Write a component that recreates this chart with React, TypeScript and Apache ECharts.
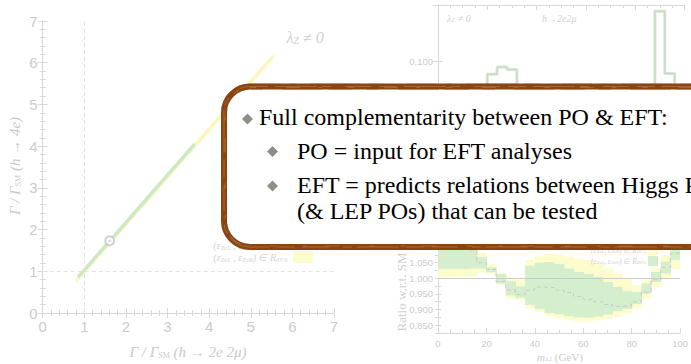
import React, { useEffect, useRef } from "react";
import * as echarts from "echarts";

// ---- Left panel: widths in the (h→2e2μ, h→4e) plane, λ_Z ≠ 0 ----
const widthTicks = [0, 1, 2, 3, 4, 5, 6, 7];
const region95Line: [number, number][] = [
  [0.8, 0.77],
  [5.55, 6.17],
];
const region68Line: [number, number][] = [
  [0.85, 0.86],
  [3.65, 4.05],
];
const smBenchmark: [number, number][] = [[1.61, 1.73]];

// ---- Right panel: m12 spectrum and ratio to SM, 4 GeV bins ----
const m12Edges = [0, 4, 8, 12, 16, 20, 24, 28, 32, 36, 40, 44, 48, 52, 56, 60, 64, 68, 72, 76, 80, 84, 88, 92, 96, 100];
const m12Spectrum = [
  0.012, 0.018, 0.025, 0.035, 0.052, 0.079, 0.09, 0.086, 0.06, 0.048, 0.042, 0.038, 0.036,
  0.035, 0.035, 0.036, 0.037, 0.04, 0.044, 0.05, 0.058, 0.064, 0.25, 0.08, 0.045,
];
const spectrumTicks = [0.1];
const ratioCentral = [
  1.1, 1.1, 1.095, 1.09, 1.05, 1.028, 0.99, 0.963, 0.948, 0.962, 0.972, 0.97, 0.962,
  0.955, 0.942, 0.933, 0.925, 0.916, 0.91, 0.912, 0.925, 0.955, 0.995, 1.035, 1.08,
];
const ratio95Lo = [
  1.002, 1.003, 1.004, 1.005, 1.018, 1.015, 0.98, 0.935, 0.931, 0.905, 0.892, 0.879, 0.872,
  0.866, 0.862, 0.862, 0.865, 0.87, 0.877, 0.888, 0.904, 0.934, 0.972, 0.999, 1.031,
];
const ratio68Lo = [
  1.03, 1.03, 1.03, 1.031, 1.031, 1.019, 0.983, 0.945, 0.938, 0.915, 0.902, 0.889, 0.885,
  0.879, 0.875, 0.874, 0.877, 0.884, 0.895, 0.902, 0.918, 0.951, 0.988, 1.015, 1.058,
];
const ratio68Hi = [
  1.14, 1.14, 1.13, 1.12, 1.067, 1.035, 1.013, 0.99, 0.974, 1.04, 1.05, 1.052, 1.045,
  1.031, 1.02, 1.014, 1.004, 0.988, 0.972, 0.958, 0.956, 0.983, 1.02, 1.053, 1.12,
];
const ratio95Hi = [
  1.15, 1.15, 1.15, 1.14, 1.08, 1.045, 1.017, 1.003, 0.996, 1.058, 1.072, 1.078, 1.074,
  1.069, 1.063, 1.058, 1.047, 1.031, 1.015, 0.999, 0.977, 0.994, 1.031, 1.074, 1.15,
];
const ratioTicks = [0.85, 0.9, 0.95, 1.0, 1.05, 1.1];
const m12Ticks = [0, 20, 40, 60, 80, 100];

// ---- Slide text ----
const headline = "Full complementarity between PO & EFT:";
const subPoints = [
  "PO = input for EFT analyses",
  "EFT = predicts relations between Higgs POs",
  "(& LEP POs) that can be tested",
];

const FRAME = "#d8d8d8";
const LABEL = "#cbcbcb";
const YELLOW = "#fdfccd";
const GREEN = "#d4eece";
const BRUSH = "#8a4512";
const SERIF = '"Liberation Serif", "Times New Roman", serif';
const SANS = '"Liberation Sans", Arial, sans-serif';

function stepData(values: number[]): [number, number][] {
  const pts: [number, number][] = values.map((v, i) => [m12Edges[i], v]);
  pts.push([m12Edges[m12Edges.length - 1], values[values.length - 1]]);
  return pts;
}

function bandData(lo: number[], hi: number[]) {
  return lo.map((l, i) => [m12Edges[i], m12Edges[i + 1], l, hi[i]]);
}

function bandSeries(lo: number[], hi: number[], color: string, z: number) {
  return {
    type: "custom",
    xAxisIndex: 4,
    yAxisIndex: 4,
    z,
    silent: true,
    encode: { x: [0, 1], y: [2, 3] },
    data: bandData(lo, hi),
    renderItem: (params: any, api: any) => {
      const p0 = api.coord([api.value(0), api.value(3)]);
      const p1 = api.coord([api.value(1), api.value(2)]);
      const cs = params.coordSys;
      const shape = echarts.graphic.clipRectByRect(
        { x: p0[0], y: p0[1], width: p1[0] - p0[0] + 0.6, height: p1[1] - p0[1] },
        { x: cs.x, y: cs.y, width: cs.width, height: cs.height }
      );
      return shape ? { type: "rect", shape, style: { fill: color } } : null;
    },
  };
}

function frameAxis(extra: any) {
  return {
    type: "value",
    axisLine: { show: true, lineStyle: { color: FRAME, width: 1 } },
    axisTick: { show: true, inside: true, length: 5, lineStyle: { color: FRAME } },
    minorTick: { show: true, splitNumber: 5, length: 3, lineStyle: { color: FRAME } },
    splitLine: { show: false },
    axisLabel: { show: false },
    ...extra,
  };
}

const italicRich = (size: number, sub: number, drop: number, fill: string) => ({
  i: { fontFamily: SERIF, fontStyle: "italic", fontSize: size, fill },
  s: { fontFamily: SERIF, fontStyle: "italic", fontSize: sub, fill, padding: [drop, 0, 0, 0] },
  u: { fontFamily: SERIF, fontSize: sub, fill, padding: [drop, 0, 0, 0] },
  r: { fontFamily: SERIF, fontSize: size, fill },
});

export default function App() {
  const ref = useRef<HTMLDivElement>(null);

  useEffect(() => {
    if (!ref.current) return;
    const chart = echarts.init(ref.current, undefined, { renderer: "svg" });

    const tickFmt = (list: number[], digits: number) => (v: number) =>
      list.some((t) => Math.abs(t - v) < 1e-6) ? v.toFixed(digits) : "";

    const minor4 = { show: true, splitNumber: 4, length: 3, lineStyle: { color: FRAME } };

    const option: any = {
      animation: false,
      backgroundColor: "#ffffff",
      grid: [
        { left: 42.7, top: 21, width: 291.3, height: 292 },
        { left: 438, top: 5, width: 246.5, height: 220 },
        { left: 438, top: 231.3, width: 246.5, height: 101.7 },
      ],
      xAxis: [
        frameAxis({
          gridIndex: 0,
          min: 0,
          max: 7,
          interval: 1,
          axisLabel: {
            show: true,
            color: LABEL,
            fontFamily: SANS,
            fontSize: 15,
            margin: 6,
            formatter: tickFmt(widthTicks, 0),
          },
        }),
        frameAxis({ gridIndex: 0, position: "top", min: 0, max: 7, interval: 1 }),
        frameAxis({ gridIndex: 1, min: 0, max: 100, interval: 20, minorTick: minor4 }),
        frameAxis({ gridIndex: 1, position: "top", min: 0, max: 100, interval: 20, minorTick: minor4 }),
        frameAxis({
          gridIndex: 2,
          min: 0,
          max: 100,
          interval: 20,
          minorTick: minor4,
          axisLabel: {
            show: true,
            color: LABEL,
            fontFamily: SANS,
            fontSize: 9.5,
            margin: 5,
            formatter: tickFmt(m12Ticks, 0),
          },
        }),
        frameAxis({ gridIndex: 2, position: "top", min: 0, max: 100, interval: 20 }),
      ],
      yAxis: [
        frameAxis({
          gridIndex: 0,
          min: 0,
          max: 7,
          interval: 1,
          axisLabel: {
            show: true,
            color: LABEL,
            fontFamily: SANS,
            fontSize: 15,
            margin: 5,
            formatter: tickFmt(widthTicks, 0),
          },
        }),
        frameAxis({ gridIndex: 0, position: "right", min: 0, max: 7, interval: 1 }),
        {
          type: "log",
          gridIndex: 1,
          min: 0.005,
          max: 0.28,
          axisLine: { show: true, lineStyle: { color: FRAME } },
          axisTick: { show: true, inside: true, length: 5, lineStyle: { color: FRAME } },
          splitLine: { show: false },
          axisLabel: {
            show: true,
            color: LABEL,
            fontFamily: SANS,
            fontSize: 9.5,
            margin: 5,
            formatter: tickFmt(spectrumTicks, 3),
          },
        },
        {
          type: "log",
          gridIndex: 1,
          position: "right",
          min: 0.005,
          max: 0.28,
          axisLine: { show: true, lineStyle: { color: FRAME } },
          axisTick: { show: true, inside: true, length: 5, lineStyle: { color: FRAME } },
          splitLine: { show: false },
          axisLabel: { show: false },
        },
        frameAxis({
          gridIndex: 2,
          min: 0.825,
          max: 1.15,
          interval: 0.025,
          minorTick: { show: false },
          axisTick: { show: true, inside: true, length: 3, lineStyle: { color: FRAME } },
          axisLabel: {
            show: true,
            color: LABEL,
            fontFamily: SANS,
            fontSize: 9.5,
            margin: 5,
            formatter: tickFmt(ratioTicks, 3),
          },
        }),
        frameAxis({
          gridIndex: 2,
          position: "right",
          min: 0.825,
          max: 1.15,
          interval: 0.025,
          minorTick: { show: false },
          axisTick: { show: true, inside: true, length: 3, lineStyle: { color: FRAME } },
        }),
      ],
      series: [
        {
          type: "line",
          xAxisIndex: 0,
          yAxisIndex: 0,
          data: region95Line,
          symbol: "none",
          lineStyle: { color: "#faf7bd", width: 3.5 },
          z: 2,
          markLine: {
            silent: true,
            symbol: "none",
            label: { show: false },
            lineStyle: { color: "#e2e2e2", type: [4, 3], width: 1 },
            data: [{ xAxis: 1 }, { yAxis: 1 }],
            z: 1,
          },
        },
        {
          type: "line",
          xAxisIndex: 0,
          yAxisIndex: 0,
          data: region68Line,
          symbol: "none",
          lineStyle: { color: "#cde8c5", width: 3.5 },
          z: 3,
        },
        {
          type: "scatter",
          xAxisIndex: 0,
          yAxisIndex: 0,
          data: smBenchmark,
          symbol: "emptyCircle",
          symbolSize: 9,
          itemStyle: { color: "#c6c6c6", borderColor: "#c6c6c6", borderWidth: 1.2 },
          z: 4,
        },
        {
          type: "scatter",
          xAxisIndex: 0,
          yAxisIndex: 0,
          data: smBenchmark,
          symbol: "circle",
          symbolSize: 2.2,
          itemStyle: { color: "#c6c6c6" },
          z: 5,
        },
        // m12 spectrum (log scale)
        {
          type: "line",
          xAxisIndex: 2,
          yAxisIndex: 2,
          step: "end",
          data: stepData(m12Spectrum),
          symbol: "none",
          lineStyle: { color: "#d2ebcb", width: 3 },
          z: 2,
        },
        {
          type: "line",
          xAxisIndex: 2,
          yAxisIndex: 2,
          step: "end",
          data: stepData(m12Spectrum),
          symbol: "none",
          lineStyle: { color: "#cfcfcf", width: 1 },
          z: 3,
        },
        // ratio bands
        bandSeries(ratio95Lo, ratio95Hi, YELLOW, 1),
        bandSeries(ratio68Lo, ratio68Hi, GREEN, 2),
        {
          type: "line",
          xAxisIndex: 4,
          yAxisIndex: 4,
          step: "end",
          data: stepData(ratioCentral),
          symbol: "none",
          lineStyle: { color: "#c9c9c9", width: 1, type: [4, 3] },
          z: 4,
          markLine: {
            silent: true,
            symbol: "none",
            label: { show: false },
            lineStyle: { color: "#cccccc", type: "solid", width: 1 },
            data: [{ yAxis: 1 }],
          },
        },
      ],
      graphic: [
        // left axis titles
        {
          type: "text",
          x: 188,
          y: 352,
          z: 10,
          style: {
            text: "{i|Γ / Γ}{u|SM}{i| (h → 2e 2μ)}",
            rich: italicRich(15, 8, 6, LABEL),
            align: "center",
            verticalAlign: "middle",
          },
        },
        {
          type: "text",
          x: 15,
          y: 166,
          rotation: Math.PI / 2,
          z: 10,
          style: {
            text: "{i|Γ / Γ}{u|SM}{i| (h → 4e)}",
            rich: italicRich(15, 8, 6, LABEL),
            align: "center",
            verticalAlign: "middle",
          },
        },
        {
          type: "text",
          x: 305,
          y: 37,
          z: 10,
          style: {
            text: "{i|λ}{s|Z}{i| ≠ 0}",
            rich: italicRich(16, 10, 7, "#d0d0d0"),
            align: "center",
            verticalAlign: "middle",
          },
        },
        // left legend
        {
          type: "text",
          x: 288,
          y: 245,
          z: 10,
          style: {
            text: "{i|(ε}{s|ZeL}{i| , ε}{s|ZeR}{i|) ∈ R}{s|68%}",
            rich: italicRich(10, 6.5, 4.5, "#d2d2d2"),
            align: "right",
            verticalAlign: "middle",
          },
        },
        {
          type: "text",
          x: 288,
          y: 257.5,
          z: 10,
          style: {
            text: "{i|(ε}{s|ZeL}{i| , ε}{s|ZeR}{i|) ∈ R}{s|95%}",
            rich: italicRich(10, 6.5, 4.5, "#d2d2d2"),
            align: "right",
            verticalAlign: "middle",
          },
        },
        { type: "rect", z: 10, shape: { x: 293, y: 237, width: 20, height: 12 }, style: { fill: GREEN } },
        { type: "rect", z: 10, shape: { x: 293, y: 251, width: 20, height: 12 }, style: { fill: YELLOW } },
        // right panel annotations
        {
          type: "text",
          x: 447,
          y: 18,
          z: 10,
          style: {
            text: "{i|λ}{s|Z}{i| ≠ 0}",
            rich: italicRich(10, 7, 4, "#d0d0d0"),
            align: "left",
            verticalAlign: "middle",
          },
        },
        {
          type: "text",
          x: 542,
          y: 18,
          z: 10,
          style: {
            text: "h→2e2μ",
            fontFamily: SERIF,
            fontStyle: "italic",
            fontSize: 10,
            fill: "#d0d0d0",
            align: "left",
            verticalAlign: "middle",
          },
        },
        {
          type: "text",
          x: 560,
          y: 357,
          z: 10,
          style: {
            text: "{i|m}{s|12}{r| (GeV)}",
            rich: italicRich(11, 7, 4, LABEL),
            align: "center",
            verticalAlign: "middle",
          },
        },
        {
          type: "text",
          x: 401,
          y: 292,
          rotation: Math.PI / 2,
          z: 10,
          style: {
            text: "Ratio w.r.t. SM",
            fontFamily: SERIF,
            fontSize: 13,
            fill: "#d0d0d0",
            align: "center",
            verticalAlign: "middle",
          },
        },
        {
          type: "text",
          x: 646,
          y: 250,
          z: 10,
          style: {
            text: "{i|(ε}{s|ZeL}{i|, ε}{s|ZeR}{i|) ∈ R}{s|95%}",
            rich: italicRich(7.5, 5, 3.5, "#d2d2d2"),
            align: "right",
            verticalAlign: "middle",
          },
        },
        {
          type: "text",
          x: 646,
          y: 261,
          z: 10,
          style: {
            text: "{i|(ε}{s|ZeL}{i|, ε}{s|ZeR}{i|) ∈ R}{s|68%}",
            rich: italicRich(7.5, 5, 3.5, "#d2d2d2"),
            align: "right",
            verticalAlign: "middle",
          },
        },
        { type: "rect", z: 10, shape: { x: 648, y: 246, width: 10, height: 9 }, style: { fill: YELLOW } },
        { type: "rect", z: 10, shape: { x: 648, y: 256, width: 10, height: 10 }, style: { fill: GREEN } },
        // call-out box with brush border
        {
          type: "rect",
          z: 100,
          shape: { x: 224, y: 86.5, width: 560, height: 160.5, r: 26 },
          style: { fill: "#ffffff", stroke: BRUSH, lineWidth: 6 },
        },
        {
          type: "rect",
          z: 101,
          shape: { x: 222, y: 84.3, width: 563, height: 164.5, r: 28 },
          style: { fill: "none", stroke: BRUSH, lineWidth: 1.2, lineDash: [30, 10, 6, 14, 50, 8, 16, 22], opacity: 0.65 },
        },
        {
          type: "rect",
          z: 101,
          shape: { x: 226.6, y: 89.2, width: 556, height: 155.3, r: 24 },
          style: { fill: "none", stroke: BRUSH, lineWidth: 1, lineDash: [12, 20, 40, 6, 24, 14], opacity: 0.5 },
        },
        {
          type: "rect",
          z: 102,
          shape: { x: 224, y: 86.5, width: 560, height: 160.5, r: 26 },
          style: { fill: "none", stroke: "#c99366", lineWidth: 0.8, lineDash: [18, 7, 42, 5, 9, 14, 26, 8], opacity: 0.55 },
        },
        {
          type: "rect",
          z: 102,
          shape: { x: 225.2, y: 87.6, width: 558, height: 158.5, r: 25 },
          style: { fill: "none", stroke: "#e0b890", lineWidth: 0.6, lineDash: [6, 30, 14, 18, 4, 26], opacity: 0.5 },
        },
        // bullets
        {
          type: "polygon",
          z: 103,
          shape: { points: [[247.5, 113.5], [253, 119], [247.5, 124.5], [242, 119]] },
          style: { fill: "#8f8f87" },
        },
        {
          type: "polygon",
          z: 103,
          shape: { points: [[272.5, 146], [278, 151.5], [272.5, 157], [267, 151.5]] },
          style: { fill: "#8f8f87" },
        },
        {
          type: "polygon",
          z: 103,
          shape: { points: [[272.5, 180.5], [278, 186], [272.5, 191.5], [267, 186]] },
          style: { fill: "#8f8f87" },
        },
        // slide text
        {
          type: "text",
          x: 259,
          y: 117,
          z: 103,
          style: { text: headline, fontFamily: SERIF, fontSize: 24, fill: "#000", align: "left", verticalAlign: "middle" },
        },
        {
          type: "text",
          x: 297,
          y: 151.2,
          z: 103,
          style: { text: subPoints[0], fontFamily: SERIF, fontSize: 24, fill: "#000", align: "left", verticalAlign: "middle" },
        },
        {
          type: "text",
          x: 297,
          y: 184.6,
          z: 103,
          style: { text: subPoints[1], fontFamily: SERIF, fontSize: 24, fill: "#000", align: "left", verticalAlign: "middle" },
        },
        {
          type: "text",
          x: 297,
          y: 211,
          z: 103,
          style: { text: subPoints[2], fontFamily: SERIF, fontSize: 24, fill: "#000", align: "left", verticalAlign: "middle" },
        },
      ],
    };

    chart.setOption(option);
    return () => chart.dispose();
  }, []);

  return (
    <div
      ref={ref}
      style={{ position: "fixed", left: 0, top: 0, width: 691, height: 364, background: "#fff" }}
    />
  );
}
